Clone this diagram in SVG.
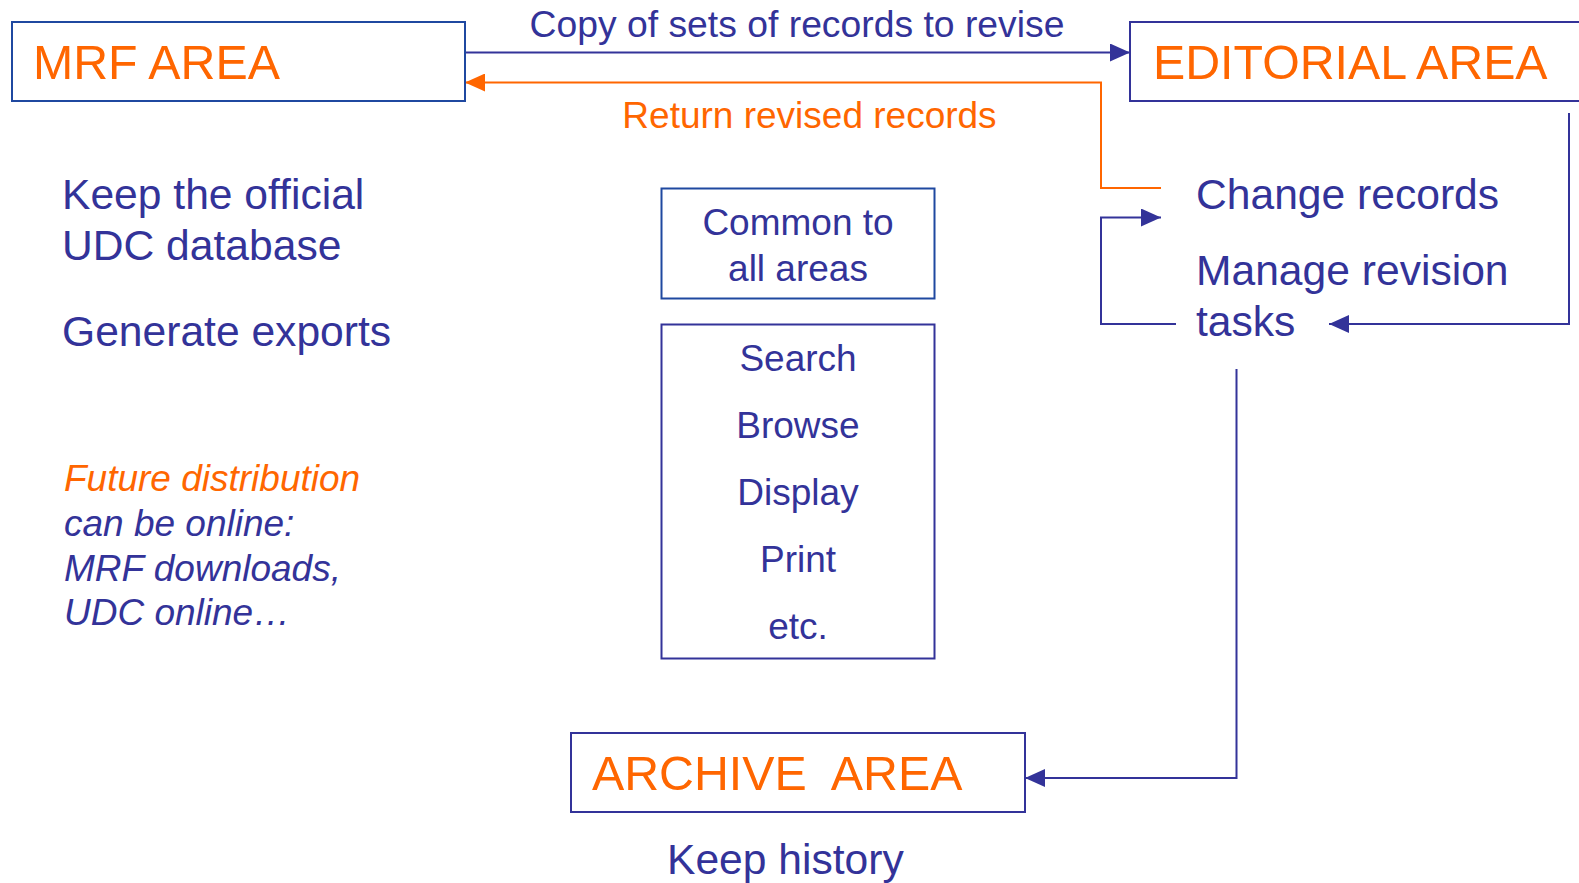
<svg xmlns="http://www.w3.org/2000/svg" width="1579" height="883" viewBox="0 0 1579 883">
<style>
.box{fill:#fff;stroke:#333399;stroke-width:2}
.box2{fill:#fff;stroke:#1f48a0;stroke-width:2}
.t{font-family:"Liberation Sans",Arial,sans-serif;fill:#333399}
.o{font-family:"Liberation Sans",Arial,sans-serif;fill:#FF6600}
.c{stroke:#333399;stroke-width:2;fill:none}
.co{stroke:#FF6600;stroke-width:2;fill:none}
</style>
<defs>
<marker id="ab" markerUnits="userSpaceOnUse" markerWidth="20" markerHeight="18" refX="20" refY="9" orient="auto"><path d="M0,0 L20,9 L0,18 z" fill="#333399"/></marker>
<marker id="ao" markerUnits="userSpaceOnUse" markerWidth="20" markerHeight="18" refX="20" refY="9" orient="auto"><path d="M0,0 L20,9 L0,18 z" fill="#FF6600"/></marker>
</defs>
<rect width="1579" height="883" fill="#fff"/>
<g id="connectors">
<path class="c" d="M465,52.5 H1130" marker-end="url(#ab)"/>
<path class="co" d="M1161,188 H1101 V82.5 H465" marker-end="url(#ao)"/>
<path class="c" d="M1569,113 V324 H1329" marker-end="url(#ab)"/>
<path class="c" d="M1176,324 H1101 V217.5 H1161" marker-end="url(#ab)"/>
<path class="c" d="M1236.5,369 V778 H1025" marker-end="url(#ab)"/>
<text class="t" x="797" y="37" font-size="37.3" text-anchor="middle">Copy of sets of records to revise</text>
<text class="o" x="809.5" y="127.5" font-size="37" text-anchor="middle">Return revised records</text>
</g>
<g id="mrf">
<rect class="box2" x="12" y="22" width="453" height="79"/>
<text class="o" x="33" y="79" font-size="48.3">MRF AREA</text>
</g>
<g id="editorial">
<rect class="box" x="1130" y="22" width="470" height="79"/>
<text class="o" x="1153" y="79" font-size="48.3">EDITORIAL AREA</text>
</g>
<g id="editorial-tasks">
<text class="t" x="1196" y="209" font-size="42.6">Change records</text>
<text class="t" x="1196" y="285" font-size="42.6">Manage revision</text>
<text class="t" x="1196" y="336" font-size="42.6">tasks</text>
</g>
<g id="mrf-tasks">
<text class="t" x="62" y="209" font-size="42.6">Keep the official</text>
<text class="t" x="62" y="260" font-size="42.6">UDC database</text>
<text class="t" x="62" y="346" font-size="42.6">Generate exports</text>
</g>
<g id="future">
<text class="o" x="64" y="491" font-size="37" font-style="italic">Future distribution</text>
<text class="t" x="64" y="536" font-size="37" font-style="italic">can be online:</text>
<text class="t" x="64" y="581" font-size="37" font-style="italic">MRF downloads,</text>
<text class="t" x="64" y="625" font-size="37" font-style="italic">UDC online…</text>
</g>
<g id="common">
<rect class="box2" x="661.5" y="188.5" width="273" height="110"/>
<text class="t" x="798" y="235" font-size="37" text-anchor="middle">Common to</text>
<text class="t" x="798" y="281" font-size="37" text-anchor="middle">all areas</text>
</g>
<g id="functions">
<rect class="box" x="661.5" y="324.5" width="273" height="334"/>
<text class="t" x="798" y="371" font-size="37" text-anchor="middle">Search</text>
<text class="t" x="798" y="438" font-size="37" text-anchor="middle">Browse</text>
<text class="t" x="798" y="505" font-size="37" text-anchor="middle">Display</text>
<text class="t" x="798" y="572" font-size="37" text-anchor="middle">Print</text>
<text class="t" x="798" y="639" font-size="37" text-anchor="middle">etc.</text>
</g>
<g id="archive">
<rect class="box" x="571" y="733" width="454" height="79"/>
<text class="o" x="592" y="790" font-size="48.3" xml:space="preserve">ARCHIVE  AREA</text>
<text class="t" x="667" y="874" font-size="42.6">Keep history</text>
</g>
</svg>
